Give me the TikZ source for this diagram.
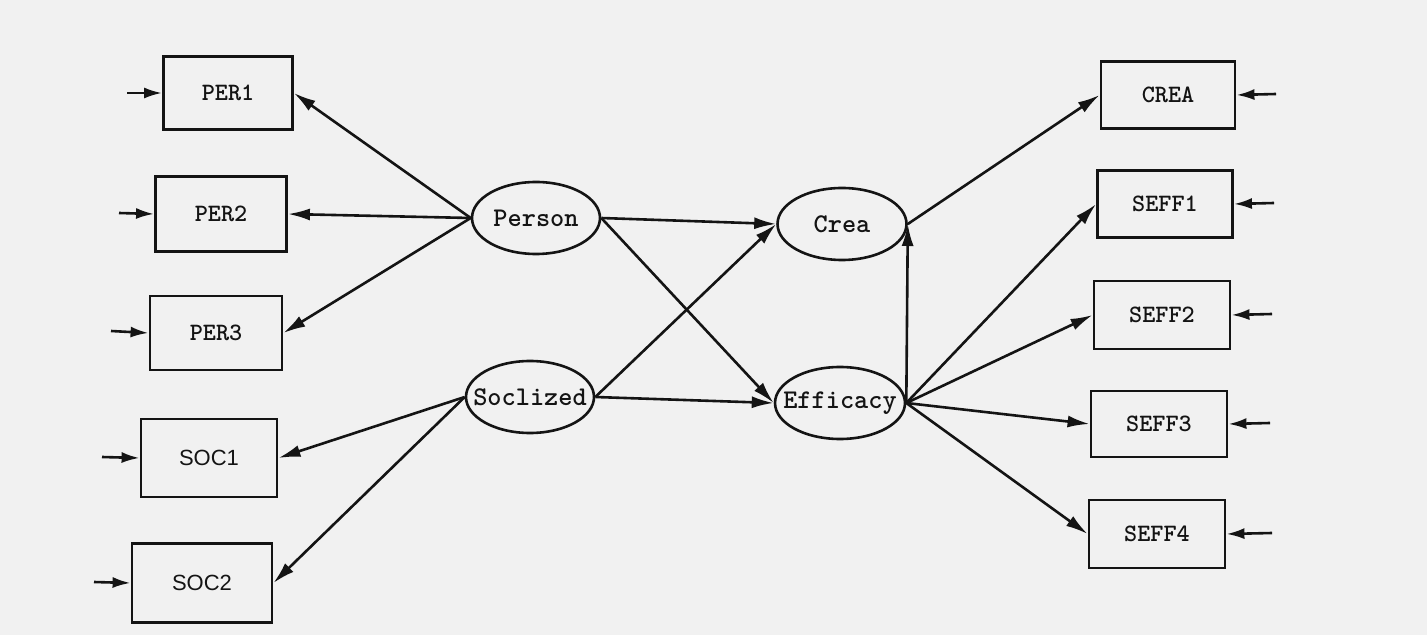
\documentclass[tikz,border=0pt]{standalone}
\usepackage{fontspec}
\setsansfont{Liberation Sans}
\usetikzlibrary{shapes.geometric,arrows.meta}
\definecolor{paper}{RGB}{241,241,241}
\definecolor{ink}{RGB}{20,20,20}
\begin{document}
\begin{tikzpicture}[x=0.5pt,y=-0.5pt,
  obs/.style={draw=ink,line width=1.4pt,rectangle,inner sep=0pt,minimum width=66pt,minimum height=37pt,font=\ttfamily\bfseries\fontsize{12.5}{14}\selectfont,text=ink},
  lat/.style={draw=ink,line width=1.3pt,ellipse,inner sep=0pt,minimum width=64pt,minimum height=36pt,font=\ttfamily\bfseries\fontsize{13.5}{15}\selectfont,text=ink},
  path/.style={draw=ink,line width=1.3pt,-{Latex[length=11pt,width=6pt]}},
  err/.style={draw=ink,line width=1.3pt,-{Latex[length=9pt,width=5.5pt]}}]
\fill[paper] (0,0) rectangle (1427,635);
\useasboundingbox (0,0) rectangle (1427,635);
% observed left
\node[obs,minimum width=64.5pt,minimum height=36.5pt] (per1) at (228,93) {PER1};
\node[obs,minimum width=65.5pt,minimum height=37.5pt] (per2) at (221,214) {PER2};
\node[obs,minimum width=66pt,minimum height=37pt] (per3) at (216,333) {PER3};
\node[obs,minimum width=68pt,minimum height=39pt,font=\sffamily\fontsize{11}{12}\selectfont] (soc1) at (209,458) {SOC1};
\node[obs,minimum width=70pt,minimum height=39.5pt,font=\sffamily\fontsize{11}{12}\selectfont] (soc2) at (202,583) {SOC2};
% observed right
\node[obs,minimum width=67pt,minimum height=33.5pt] (crea2) at (1168,95) {CREA};
\node[obs,minimum width=67.5pt,minimum height=33.5pt] (seff1) at (1165,204) {SEFF1};
\node[obs,minimum width=68pt,minimum height=34pt] (seff2) at (1162,315) {SEFF2};
\node[obs,minimum width=68pt,minimum height=33pt] (seff3) at (1159,424) {SEFF3};
\node[obs,minimum width=68pt,minimum height=34pt] (seff4) at (1157,534) {SEFF4};
% latent
\node[lat] (person) at (536,218) {\makebox[0pt]{Person}};
\node[lat] (soc) at (530,397) {\makebox[0pt]{Soclized}};
\node[lat,minimum width=64.5pt] (crea) at (842,224) {\makebox[0pt]{Crea}};
\node[lat,minimum width=65pt] (eff) at (840,403) {\makebox[0pt]{Efficacy}};
% error terms
\coordinate (ep1) at (127,93);
\coordinate (ep2) at (119,213);
\coordinate (ep3) at (111,331);
\coordinate (es1) at (102,457);
\coordinate (es2) at (94,582);
\coordinate (ec) at (1276,94);
\coordinate (ef1) at (1274,203);
\coordinate (ef2) at (1272,314);
\coordinate (ef3) at (1270,423);
\coordinate (ef4) at (1272,533);
\draw[err] (ep1) -- (per1.west);
\draw[err] (ep2) -- (per2.west);
\draw[err] (ep3) -- (per3.west);
\draw[err] (es1) -- (soc1.west);
\draw[err] (es2) -- (soc2.west);
\draw[err] (ec) -- (crea2.east);
\draw[err] (ef1) -- (seff1.east);
\draw[err] (ef2) -- (seff2.east);
\draw[err] (ef3) -- (seff3.east);
\draw[err] (ef4) -- (seff4.east);
% loadings
\draw[path] (person.west) -- (per1.east);
\draw[path] (person.west) -- (per2.east);
\draw[path] (person.west) -- (per3.east);
\draw[path] (soc.west) -- (soc1.east);
\draw[path] (soc.west) -- (soc2.east);
\draw[path] (crea.east) -- (crea2.west);
\draw[path] (eff.east) -- (seff1.west);
\draw[path] (eff.east) -- (seff2.west);
\draw[path] (eff.east) -- (seff3.west);
\draw[path] (eff.east) -- (seff4.west);
% structural
\draw[path] (person.east) -- (crea.west);
\draw[path] (person.east) -- (eff.west);
\draw[path] (soc.east) -- (crea.west);
\draw[path] (soc.east) -- (eff.west);
\draw[path] (eff.east) -- (crea.east);
\end{tikzpicture}
\end{document}
